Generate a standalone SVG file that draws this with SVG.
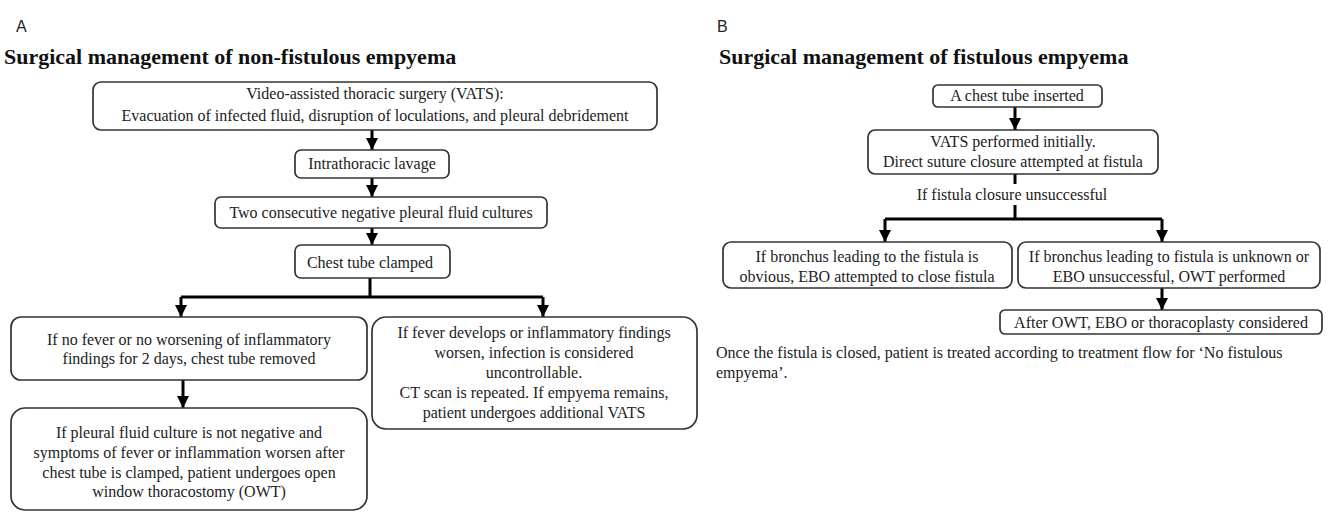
<svg xmlns="http://www.w3.org/2000/svg" width="1330" height="512" viewBox="0 0 1330 512">
<style>
.bg{fill:#fff}
.box{fill:#fff;stroke:#333;stroke-width:1.7}
.t{font-family:"Liberation Serif","Times New Roman",serif;font-size:16px;fill:#222;text-anchor:middle}
.tl{font-family:"Liberation Serif","Times New Roman",serif;font-size:16px;fill:#222}
.title{font-family:"Liberation Serif","Times New Roman",serif;font-size:22px;font-weight:bold;fill:#111}
.lab{font-family:"Liberation Sans",Arial,sans-serif;font-size:16px;fill:#222}
.c{fill:none;stroke:#000;stroke-width:3}
</style>
<defs>
<marker id="ah" viewBox="0 0 10 10" refX="10" refY="5" markerWidth="12" markerHeight="12" markerUnits="userSpaceOnUse" orient="auto">
<path d="M0,0 L10,5 L0,10 z" fill="#000"/>
</marker>
</defs>
<rect class="bg" x="0" y="0" width="1330" height="512"/>

<text class="lab" x="16" y="32">A</text>
<text class="title" x="4" y="64">Surgical management of non-fistulous empyema</text>
<text class="lab" x="717" y="32">B</text>
<text class="title" x="719" y="64">Surgical management of fistulous empyema</text>

<g id="connectors">
<path class="c" d="M372,130 V150" marker-end="url(#ah)"/>
<path class="c" d="M372,178 V197" marker-end="url(#ah)"/>
<path class="c" d="M372,228 V245" marker-end="url(#ah)"/>
<path class="c" d="M370,278 V297"/>
<path class="c" d="M181,297 H543"/>
<path class="c" d="M181,297 V317" marker-end="url(#ah)"/>
<path class="c" d="M543,297 V317" marker-end="url(#ah)"/>
<path class="c" d="M183,380 V408" marker-end="url(#ah)"/>
<path class="c" d="M1015,107 V130" marker-end="url(#ah)"/>
<path class="c" d="M1015,174 V184"/>
<path class="c" d="M1015,205 V219"/>
<path class="c" d="M885,219 H1162"/>
<path class="c" d="M885,219 V242" marker-end="url(#ah)"/>
<path class="c" d="M1162,219 V242" marker-end="url(#ah)"/>
<path class="c" d="M1162,288 V310" marker-end="url(#ah)"/>
</g>

<g id="n-vats">
<rect class="box" x="93" y="82" width="564" height="48" rx="8"/>
<text class="t" x="375" y="99">Video-assisted thoracic surgery (VATS):</text>
<text class="t" x="375" y="121">Evacuation of infected fluid, disruption of loculations, and pleural debridement</text>
</g>
<g id="n-lavage">
<rect class="box" x="295" y="150" width="154" height="28" rx="6"/>
<text class="t" x="372" y="169">Intrathoracic lavage</text>
</g>
<g id="n-cultures">
<rect class="box" x="215" y="197" width="332" height="31" rx="6"/>
<text class="t" x="381" y="218">Two consecutive negative pleural fluid cultures</text>
</g>
<g id="n-clamped">
<rect class="box" x="295" y="245" width="155" height="33" rx="6"/>
<text class="t" x="370" y="268">Chest tube clamped</text>
</g>
<g id="n-removed">
<rect class="box" x="11" y="317" width="356" height="63" rx="10"/>
<text class="t" x="189" y="345">If no fever or no worsening of inflammatory</text>
<text class="t" x="189" y="364">findings for 2 days, chest tube removed</text>
</g>
<g id="n-owt">
<rect class="box" x="11" y="408" width="356" height="102" rx="14"/>
<text class="t" x="189" y="438">If pleural fluid culture is not negative and</text>
<text class="t" x="189" y="458">symptoms of fever or inflammation worsen after</text>
<text class="t" x="189" y="478">chest tube is clamped, patient undergoes open</text>
<text class="t" x="189" y="497">window thoracostomy (OWT)</text>
</g>
<g id="n-fever">
<rect class="box" x="372" y="317" width="325" height="112" rx="14"/>
<text class="t" x="534" y="338">If fever develops or inflammatory findings</text>
<text class="t" x="534" y="358">worsen, infection is considered</text>
<text class="t" x="534" y="378">uncontrollable.</text>
<text class="t" x="534" y="398">CT scan is repeated. If empyema remains,</text>
<text class="t" x="534" y="418">patient undergoes additional VATS</text>
</g>

<g id="n-tube">
<rect class="box" x="933" y="85" width="169" height="22" rx="5"/>
<text class="t" x="1017" y="101">A chest tube inserted</text>
</g>
<g id="n-vats2">
<rect class="box" x="868" y="130" width="290" height="44" rx="7"/>
<text class="t" x="1013" y="147">VATS performed initially.</text>
<text class="t" x="1013" y="167">Direct suture closure attempted at fistula</text>
</g>
<text class="t" x="1012" y="200">If fistula closure unsuccessful</text>
<g id="n-ebo">
<rect class="box" x="723" y="242" width="289" height="46" rx="8"/>
<text class="t" x="867" y="262">If bronchus leading to the fistula is</text>
<text class="t" x="867" y="282">obvious, EBO attempted to close fistula</text>
</g>
<g id="n-unknown">
<rect class="box" x="1018" y="242" width="302" height="46" rx="8"/>
<text class="t" x="1169" y="262">If bronchus leading to fistula is unknown or</text>
<text class="t" x="1169" y="282">EBO unsuccessful, OWT performed</text>
</g>
<g id="n-after">
<rect class="box" x="1000" y="310" width="322" height="24" rx="5"/>
<text class="t" x="1161" y="328">After OWT, EBO or thoracoplasty considered</text>
</g>
<text class="tl" x="716" y="358">Once the fistula is closed, patient is treated according to treatment flow for ‘No fistulous</text>
<text class="tl" x="716" y="378">empyema’.</text>
</svg>
